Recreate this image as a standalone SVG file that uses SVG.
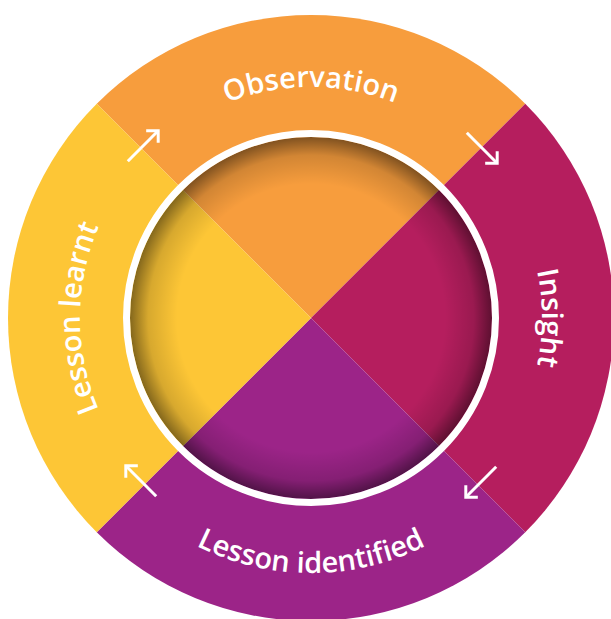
<svg xmlns="http://www.w3.org/2000/svg" width="611" height="619" viewBox="0 0 611 619">
  <style>
    .lbl { font-family: "Open Sans", "Noto Sans", "Liberation Sans", sans-serif; font-weight: 600; font-size: 29px; fill: #ffffff; }
    .arrow { fill: none; stroke: #ffffff; stroke-width: 3; marker-end: url(#head); }
  </style>
  <defs>
    <marker id="head" viewBox="-12 -12 16 24" markerWidth="16" markerHeight="24" refX="0" refY="0" orient="auto" markerUnits="userSpaceOnUse">
      <path d="M -8.5 -8.5 L 0 0 L -8.5 8.5" fill="none" stroke="#ffffff" stroke-width="3"/>
    </marker>
    <radialGradient id="vignette" cx="311" cy="318" r="181" gradientUnits="userSpaceOnUse">
      <stop offset="0" stop-color="#000" stop-opacity="0"/>
      <stop offset="0.74" stop-color="#000" stop-opacity="0"/>
      <stop offset="0.9" stop-color="#000" stop-opacity="0.15"/>
      <stop offset="1" stop-color="#000" stop-opacity="0.48"/>
    </radialGradient>
    <path id="pObs" d="M 80 318 A 231 231 0 0 1 542 318"/>
    <path id="pIns" d="M 311 87 A 231 231 0 0 1 311 549"/>
    <path id="pLearnt" d="M 311 549 A 231 231 0 0 1 311 87"/>
    <path id="pIdent" d="M 56 318 A 255 255 0 0 0 566 318"/>
  </defs>

  <g id="observation">
    <path d="M 311 318 L 96.75 103.75 A 303 303 0 0 1 525.25 103.75 Z" fill="#F79D3D"/>
  </g>
  <g id="insight">
    <path d="M 311 318 L 525.25 103.75 A 303 303 0 0 1 525.25 532.25 Z" fill="#B51E5E"/>
  </g>
  <g id="lesson-identified">
    <path d="M 311 318 L 525.25 532.25 A 303 303 0 0 1 96.75 532.25 Z" fill="#9C2488"/>
  </g>
  <g id="lesson-learnt">
    <path d="M 311 318 L 96.75 532.25 A 303 303 0 0 1 96.75 103.75 Z" fill="#FDC636"/>
  </g>

  <g id="hub">
    <circle cx="311" cy="318" r="181" fill="url(#vignette)"/>
    <circle cx="311" cy="318" r="184.5" fill="none" stroke="#ffffff" stroke-width="7"/>
  </g>

  <g id="labels">
    <text class="lbl"><textPath href="#pObs" startOffset="50%" text-anchor="middle">Observation</textPath></text>
    <text class="lbl"><textPath href="#pIns" startOffset="50%" text-anchor="middle">Insight</textPath></text>
    <text class="lbl"><textPath href="#pIdent" startOffset="50%" text-anchor="middle">Lesson identified</textPath></text>
    <text class="lbl"><textPath href="#pLearnt" startOffset="50%" text-anchor="middle">Lesson learnt</textPath></text>
  </g>

  <g id="connectors">
    <path class="arrow" d="M 127.8 161.2 L 158.2 130.8"/>
    <path class="arrow" d="M 466.8 132.8 L 497.2 163.2"/>
    <path class="arrow" d="M 496.2 466.8 L 465.8 497.2"/>
    <path class="arrow" d="M 156.2 496.2 L 125.8 465.8"/>
  </g>
</svg>
